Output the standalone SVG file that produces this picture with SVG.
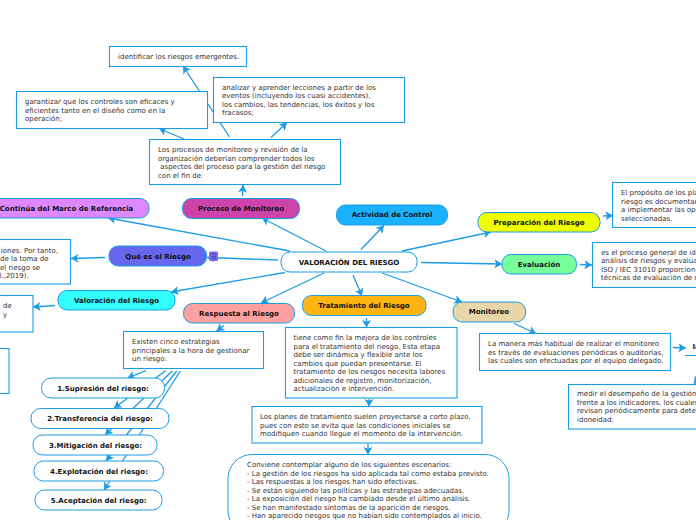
<svg xmlns="http://www.w3.org/2000/svg" width="696" height="520" viewBox="0 0 696 520">
<style>
text{font-family:"DejaVu Sans",Verdana,sans-serif;font-size:7px;fill:#333}
.b{font-weight:bold;font-size:7px;fill:#111;text-anchor:middle}
.box{fill:#fff;stroke:#1b9ce6;stroke-width:1.100}
.pill{stroke:#1b9ce6;stroke-width:1}
#connectors line{stroke:#1b9ce6;stroke-width:1.300;marker-end:url(#a)}
</style>
<defs><marker id="a" markerUnits="userSpaceOnUse" markerWidth="9" markerHeight="10" refX="7.500" refY="5" orient="auto"><path d="M0 .5L7.500 5L0 9.500L1.800 5Z" fill="#1b9ce6"/></marker></defs>
<g id="connectors">
<line x1="326" y1="251" x2="262" y2="218"/><line x1="361" y1="249.500" x2="384" y2="225.500"/><line x1="402" y1="251" x2="491" y2="232"/><line x1="421" y1="262.500" x2="502" y2="264"/><line x1="382" y1="273" x2="462" y2="302"/><line x1="353" y1="275" x2="362" y2="296"/><line x1="324" y1="273" x2="261" y2="303"/><line x1="285" y1="272.500" x2="171" y2="292"/><line x1="278" y1="260" x2="207" y2="257.500"/><line x1="290" y1="251" x2="108" y2="218"/>
<line x1="242.500" y1="196" x2="243" y2="185"/><line x1="229.500" y1="137" x2="183" y2="66"/><line x1="184" y1="139" x2="159" y2="128.500"/><line x1="271" y1="137.500" x2="287" y2="122.500"/>
<line x1="603" y1="216" x2="613" y2="215.500"/><line x1="580" y1="264.500" x2="592" y2="265"/><line x1="514" y1="323.500" x2="536" y2="333.500"/><line x1="673" y1="347.500" x2="686" y2="348"/><line x1="700" y1="376" x2="694" y2="384"/>
<line x1="105" y1="257.500" x2="71" y2="258.500"/><line x1="55" y1="305.500" x2="33" y2="307"/><line x1="224" y1="325.500" x2="216.500" y2="331"/>
<line x1="146" y1="370.700" x2="127.500" y2="378"/><line x1="165.700" y1="370.700" x2="114" y2="408"/><line x1="172.300" y1="371" x2="105" y2="435"/><line x1="176.700" y1="371" x2="106" y2="461"/><line x1="180.300" y1="371" x2="104" y2="490"/>
<line x1="366.500" y1="318" x2="366.500" y2="327.500"/><line x1="369" y1="399" x2="369" y2="406.500"/><line x1="368" y1="444" x2="368" y2="454.500"/>
</g>
<g id="n-emergentes"><rect class="box" x="109.500" y="46.500" width="137" height="20"/><text x="118" y="59">identificar los riesgos emergentes.</text></g>
<g id="n-garantizar"><rect class="box" x="16.500" y="91.500" width="191" height="37"/><text x="25" y="104">garantizar que los controles son eficaces y</text><text x="25" y="113">eficientes tanto en el diseño como en la</text><text x="25" y="121">operación;</text></g>
<g id="n-analizar"><rect class="box" x="213.500" y="77.500" width="191" height="45"/><text x="222" y="90">analizar y aprender lecciones a partir de los</text><text x="222" y="98">eventos (incluyendo los cuasi accidentes),</text><text x="222" y="107">los cambios, las tendencias, los éxitos y los</text><text x="222" y="115">fracasos;</text></g>
<g id="n-procesos"><rect class="box" x="149.500" y="139.500" width="191" height="45"/><text x="158" y="152">Los procesos de monitoreo y revisión de la</text><text x="158" y="161">organización deberían comprender todos los</text><text x="158" y="169" xml:space="preserve"> aspectos del proceso para la gestión del riesgo</text><text x="158" y="178">con el fin de:</text></g>
<g id="n-continua"><rect class="pill" x="-12" y="198.500" width="161" height="19.500" rx="9" fill="#dd88ff"/><text class="b" x="66.500" y="211">Continúa del Marco de Referencia</text></g>
<g id="n-proceso"><rect class="pill" x="182.500" y="198.500" width="117" height="20" rx="9" fill="#cc44aa"/><text class="b" x="241" y="211">Proceso de Monitoreo</text></g>
<g id="n-actividad"><rect class="pill" x="336.500" y="205" width="111" height="20" rx="9" fill="#1ab2ff"/><text class="b" x="392" y="217">Actividad de Control</text></g>
<g id="n-preparacion"><rect class="pill" x="478" y="212.500" width="122" height="19.500" rx="9" fill="#eeff00"/><text class="b" x="539" y="225">Preparación del Riesgo</text></g>
<g id="n-evaluacion"><rect class="pill" x="502" y="254.500" width="74.500" height="19.500" rx="9" fill="#77ff99"/><text class="b" x="539" y="267">Evaluación</text></g>
<g id="n-central"><rect class="pill" x="281" y="252" width="136" height="20" rx="9" fill="#fff"/><text class="b" x="349" y="264.500">VALORACIÓN DEL RIESGO</text></g>
<g id="n-que"><rect class="pill" x="109" y="246" width="97.500" height="20" rx="9" fill="#6666ee"/><text class="b" x="158" y="259">Qué es el Riesgo</text><rect x="209" y="251.500" width="9" height="9.500" rx="1.500" fill="#7b68ee"/><path d="M211.500 254h4.500M211.500 256.300h4.500M211.500 258.600h4.500" stroke="#2a2a66" stroke-width=".6"/></g>
<g id="n-valoracion"><rect class="pill" x="58" y="290.500" width="117" height="19.500" rx="9" fill="#33ffff"/><text class="b" x="116.500" y="303">Valoración del Riesgo</text></g>
<g id="n-respuesta"><rect class="pill" x="183.500" y="303.500" width="111" height="19.500" rx="9" fill="#ffa0a0"/><text class="b" x="239" y="316">Respuesta al Riesgo</text></g>
<g id="n-tratamiento"><rect class="pill" x="302.500" y="295.500" width="123.500" height="20" rx="9" fill="#ffb511"/><text class="b" x="364" y="308">Tratamiento del Riesgo</text></g>
<g id="n-monitoreo"><rect class="pill" x="453" y="302" width="72.500" height="20" rx="9" fill="#e8d5a8"/><text class="b" x="489" y="314">Monitoreo</text></g>
<g id="n-existen"><rect class="box" x="123.500" y="331.500" width="140" height="37"/><text x="132" y="344">Existen cinco estrategias</text><text x="132" y="353">principales a la hora de gestionar</text><text x="132" y="361">un riesgo:</text></g>
<g id="n-s1"><rect class="pill" x="41.500" y="378" width="123" height="20" rx="9.500" fill="#fff"/><text class="b" x="103" y="391">1.Supresión del riesgo:</text></g>
<g id="n-s2"><rect class="pill" x="31" y="408.500" width="138" height="20" rx="9.500" fill="#fff"/><text class="b" x="100" y="421">2.Transferencia del riesgo:</text></g>
<g id="n-s3"><rect class="pill" x="33" y="435" width="124" height="20" rx="9.500" fill="#fff"/><text class="b" x="95.500" y="447.700">3.Mitigación del riesgo:</text></g>
<g id="n-s4"><rect class="pill" x="34" y="461" width="129.500" height="20" rx="9.500" fill="#fff"/><text class="b" x="99" y="474">4.Explotación del riesgo:</text></g>
<g id="n-s5"><rect class="pill" x="35" y="490" width="127" height="20" rx="9.500" fill="#fff"/><text class="b" x="98.700" y="503">5.Aceptación del riesgo:</text></g>
<g id="n-tiene"><rect class="box" x="285.500" y="327.500" width="171.500" height="70.500"/><text x="293.500" y="340">tiene como fin la mejora de los controles</text><text x="293.500" y="348.500">para el tratamiento del riesgo. Esta etapa</text><text x="293.500" y="357">debe ser dinámica y flexible ante los</text><text x="293.500" y="365.500">cambios que puedan presentarse. El</text><text x="293.500" y="374">tratamiento de los riesgos necesita labores</text><text x="293.500" y="382.500">adicionales de registro, monitorización,</text><text x="293.500" y="391">actualización e intervención.</text></g>
<g id="n-planes"><rect class="box" x="252" y="406.500" width="230" height="36.500"/><text x="260" y="419">Los planes de tratamiento suelen proyectarse a corto plazo,</text><text x="260" y="428">pues con esto se evita que las condiciones iniciales se</text><text x="260" y="436">modifiquen cuando llegue el momento de la intervención.</text></g>
<g id="n-conviene"><rect class="pill" x="228" y="454.500" width="281" height="80" rx="24" fill="#fff"/><text x="247" y="467">Conviene contemplar alguno de los siguientes escenarios:</text><text x="247" y="475.500">- La gestión de los riesgos ha sido aplicada tal como estaba previsto.</text><text x="247" y="484">- Las respuestas a los riesgos han sido efectivas.</text><text x="247" y="492.500">- Se están siguiendo las políticas y las estrategias adecuadas.</text><text x="247" y="501">- La exposición del riesgo ha cambiado desde el último análisis.</text><text x="247" y="509.500">- Se han manifestado síntomas de la aparición de riesgos.</text><text x="247" y="518">- Han aparecido riesgos que no habían sido contemplados al inicio.</text></g>
<g id="n-manera"><rect class="box" x="479.500" y="333.500" width="191" height="37"/><text x="488" y="346">La manera más habitual de realizar el monitoreo</text><text x="488" y="355">es través de evaluaciones periódicas o auditorías,</text><text x="488" y="363">las cuales son efectuadas por el equipo delegado.</text></g>
<g id="n-i"><path d="M685 355.500H700" fill="none" stroke="#1b9ce6"/><text x="692.500" y="349" style="font-weight:bold;fill:#111">Ia</text></g>
<g id="n-medir"><rect class="box" x="568.500" y="384.500" width="140" height="44.500"/><text x="577" y="396">medir el desempeño de la gestión</text><text x="577" y="405">frente a los indicadores, los cuales</text><text x="577" y="413">revisan periódicamente para deter</text><text x="577" y="422">idoneidad;</text></g>
<g id="n-proposito"><rect class="box" x="612.500" y="182.500" width="100" height="45"/><text x="621" y="195">El propósito de los pla</text><text x="621" y="203.500">riesgo es documentar</text><text x="621" y="212">a implementar las ope</text><text x="621" y="220.500">seleccionadas.</text></g>
<g id="n-proceso2"><rect class="box" x="592.500" y="242.500" width="120" height="45"/><text x="601" y="255">es el proceso general de ide</text><text x="601" y="263">análisis de riesgos y evalua</text><text x="601" y="272">ISO / IEC 31010 proporcion</text><text x="601" y="280">técnicas de evaluación de r</text></g>
<g id="n-l1"><rect class="box" x="-60" y="239.500" width="130.500" height="44.500"/><text x="58" y="252.500" text-anchor="end">iones. Por tanto,</text><text x="0" y="261">de la toma de</text><text x="0" y="269.500">el riesgo se</text><text x="-0.500" y="278">l.,2019).</text></g>
<g id="n-l2"><rect class="box" x="-60" y="295.500" width="93" height="36.500"/><text x="3" y="308">de</text><text x="3" y="317">y</text></g>
<g id="n-l3"><rect class="box" x="-60" y="348.500" width="69" height="45"/></g>
</svg>
